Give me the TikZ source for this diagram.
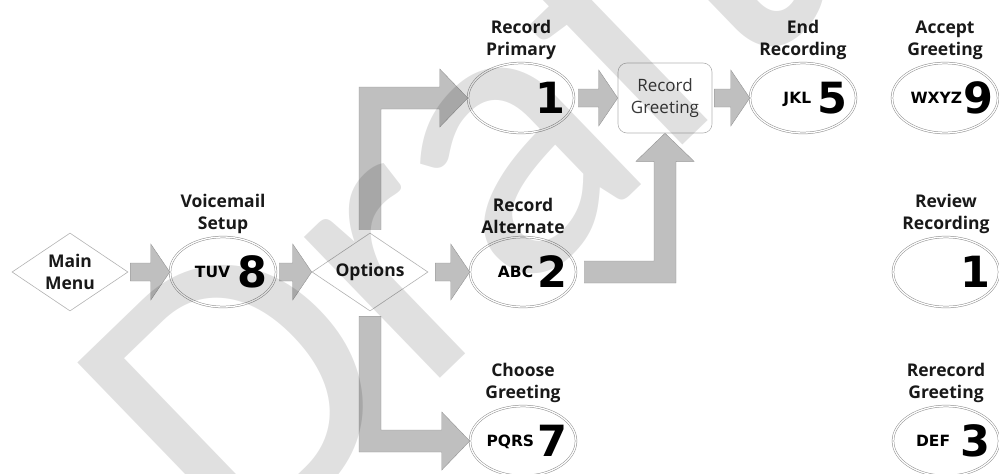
\documentclass[tikz,border=0pt]{standalone}
\usepackage{fontspec}
\setmainfont{Open Sans}
\newfontfamily\dejavu{DejaVu Sans}
\newfontfamily\wmfont{Carlito}
\usetikzlibrary{shapes.geometric,calc}

\tikzset{
  keyoval/.style={ellipse, draw=black!45, double=white, double distance=1.3pt,
    line width=0.5pt, minimum width=106, minimum height=70, inner sep=0,
    label distance=2pt},
  menu/.style={diamond, draw=black!30, line width=0.6pt, aspect=1.5, inner sep=0,
    minimum width=116, minimum height=78, align=center, text=black!90,
    font=\bfseries\fontsize{17.5}{22}\selectfont},
  greet/.style={rectangle, rounded corners=9, draw=black!30, line width=0.6pt,
    minimum width=94, minimum height=70, align=center, text=black!78,
    font=\fontsize{17}{22}\selectfont},
  title/.style={align=center, text=black!90, font=\bfseries\fontsize{17.5}{22}\selectfont},
  keys/.style={inner sep=0, anchor=east, font=\dejavu\bfseries\fontsize{43}{43}\selectfont},
  blk/.style={fill=black!25, draw=black!42, line width=0.4pt},
  wm/.style={inner sep=0, text=black, text opacity=0.12,
    font=\wmfont\fontsize{410}{410}\selectfont}
}

\begin{document}
\begin{tikzpicture}[x=1pt,y=-1pt]
  \useasboundingbox (0,0) rectangle (999,474);

  % menus
  \node[menu] (mm) at (70,272) {Main\\Menu};
  \node[menu] (opt) at (370,272) {Options};
  \node[greet] (rg) at (665,98) {Record\\Greeting};

  % keypad ovals
  \node[keyoval, label={[title]above:{Voicemail\\Setup}}] (vm) at (223,272) {};
  \node[keyoval, label={[title]above:{Record\\Primary}}] (pri) at (521,98) {};
  \node[keyoval, label={[title]above:{Record\\Alternate}}] (alt) at (523,272) {};
  \node[keyoval, label={[title]above:{Choose\\Greeting}}] (cho) at (523,441) {};
  \node[keyoval, label={[title]above:{End\\Recording}}] (endr) at (803,98) {};
  \node[keyoval, label={[title]above:{Accept\\Greeting}}] (acc) at (945,98) {};
  \node[keyoval, label={[title]above:{Review\\Recording}}] (rev) at (946,272) {};
  \node[keyoval, label={[title]above:{Rerecord\\Greeting}}] (rer) at (946,441) {};

  % keys inside the ovals
  \node[keys] (vmk) at ([xshift=-9]vm.east) {\raisebox{10pt}{\fontsize{15.5}{15.5}\selectfont TUV}\hspace{7pt}8};
  \node[keys] (prik) at ([xshift=-9]pri.east) {1};
  \node[keys] (altk) at ([xshift=-9]alt.east) {\raisebox{10pt}{\fontsize{15.5}{15.5}\selectfont ABC}\hspace{4pt}2};
  \node[keys] (chok) at ([xshift=-9]cho.east) {\raisebox{10pt}{\fontsize{15.5}{15.5}\selectfont PQRS}\hspace{3pt}7};
  \node[keys] (endk) at ([xshift=-9]endr.east) {\raisebox{10pt}{\fontsize{15.5}{15.5}\selectfont JKL}\hspace{6pt}5};
  \node[keys] (acck) at ([xshift=-5]acc.east) {\raisebox{10pt}{\fontsize{15.5}{15.5}\selectfont WXYZ}\hspace{1pt}9};
  \node[keys] (revk) at ([xshift=-9]rev.east) {1};
  \node[keys] (rerk) at ([xshift=-9]rer.east) {\raisebox{10pt}{\fontsize{15.5}{15.5}\selectfont DEF}\hspace{10pt}3};

  % straight block arrows
  \draw[blk] ($(mm.east)+(2,-9)$) -- ($(vm.west)+(-19,-9)$) -- ++(0,-19) -- (vm.west)
    -- ++(-19,28) -- ++(0,-19) -- ($(mm.east)+(2,9)$) -- cycle;
  \draw[blk] ($(vm.east)+(3,-9)$) -- ($(opt.west)+(-19,-9)$) -- ++(0,-19) -- (opt.west)
    -- ++(-19,28) -- ++(0,-19) -- ($(vm.east)+(3,9)$) -- cycle;
  \draw[blk] ($(opt.east)+(7,-9)$) -- ($(alt.west)+(-19,-9)$) -- ++(0,-19) -- (alt.west)
    -- ++(-19,28) -- ++(0,-19) -- ($(opt.east)+(7,9)$) -- cycle;
  \draw[blk] ($(pri.east)+(4,-9)$) -- ($(rg.west)+(-19,-9)$) -- ++(0,-19) -- (rg.west)
    -- ++(-19,28) -- ++(0,-19) -- ($(pri.east)+(4,9)$) -- cycle;
  \draw[blk] ($(rg.east)+(2,-9)$) -- ($(endr.west)+(-19,-9)$) -- ++(0,-19) -- (endr.west)
    -- ++(-19,28) -- ++(0,-19) -- ($(rg.east)+(2,9)$) -- cycle;

  % bent block arrows
  \draw[blk] ($(opt.north)+(-11,-3)$) |- ($(pri.west)+(-28,-11)$) -- ++(0,-18) -- (pri.west)
    -- ++(-28,29) -- ++(0,-18) -| ($(opt.north)+(11,-3)$) -- cycle;
  \draw[blk] ($(opt.south)+(-11,5)$) |- ($(cho.west)+(-28,11)$) -- ++(0,18) -- (cho.west)
    -- ++(-28,-29) -- ++(0,18) -| ($(opt.south)+(11,5)$) -- cycle;
  \draw[blk] ($(alt.east)+(8,11)$) -| ($(rg.south)+(11,28)$) -- ++(18,0) -- (rg.south)
    -- ++(-29,28) -- ++(18,0) |- ($(alt.east)+(8,-11)$) -- cycle;

  % watermark
  \node[wm, rotate=44, anchor=base west] (draft) at (240,572) {Draft};
\end{tikzpicture}
\end{document}
